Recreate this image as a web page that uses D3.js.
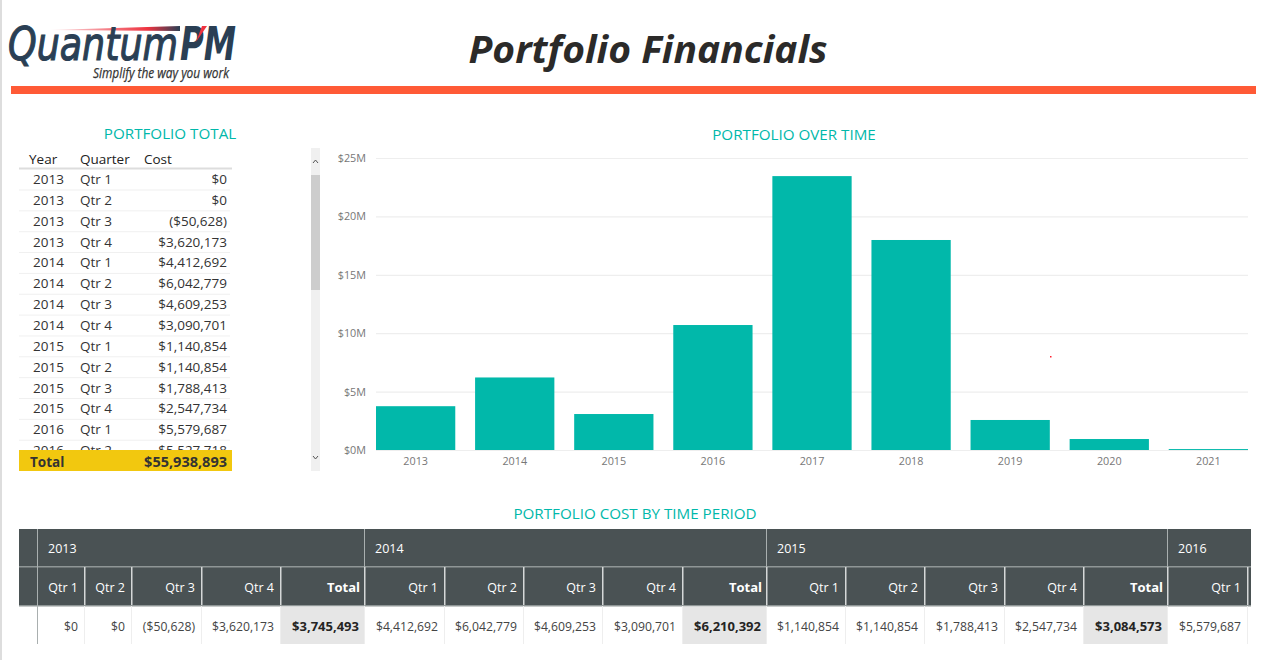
<!DOCTYPE html>
<html lang="en">
<head>
    <meta charset="UTF-8">
    <title>Portfolio Financials</title>
    <style>
        html, body { margin: 0; padding: 0; background: #fff; overflow: hidden; }
        svg { display: block; font-family: "Open Sans", sans-serif; }
        .section-title { fill: #01b8aa; font-size: 15.2px; text-anchor: middle; }
        .list-cell { fill: #333; font-size: 13.5px; }
        .list-head { fill: #222; font-size: 13.5px; }
        .matrix-head { fill: #fff; font-size: 12.5px; }
        .matrix-cell { fill: #444; font-size: 12.2px; text-anchor: end; }
        .axis text { fill: #777; font-size: 10.8px; font-family: "Open Sans", sans-serif; }
        .axis path { display: none; }
        .y-axis line { stroke: #eee; stroke-width: 1.2; }
        .x-axis line { display: none; }
    </style>
</head>
<body>
    <svg id="page" width="1268" height="660"></svg>

    <script src="https://d3js.org/d3.v7.min.js"></script>
    <script>
        // Chart values
        const chartYears = [2013, 2014, 2015, 2016, 2017, 2018, 2019, 2020, 2021];
        const chartCost = [3.75, 6.21, 3.08, 10.7, 23.45, 17.98, 2.57, 0.94, 0.08];
        const chartTicks = [0, 5, 10, 15, 20, 25];

        // Portfolio total list
        const listYears = [2013, 2013, 2013, 2013, 2014, 2014, 2014, 2014, 2015, 2015, 2015, 2015, 2016, 2016];
        const listQuarters = ["Qtr 1", "Qtr 2", "Qtr 3", "Qtr 4", "Qtr 1", "Qtr 2", "Qtr 3", "Qtr 4", "Qtr 1", "Qtr 2", "Qtr 3", "Qtr 4", "Qtr 1", "Qtr 2"];
        const listCost = [0, 0, -50628, 3620173, 4412692, 6042779, 4609253, 3090701, 1140854, 1140854, 1788413, 2547734, 5579687, 5527718];
        const grandTotal = 55938893;

        // Matrix values
        const matrixYears = [2013, 2014, 2015, 2016];
        const matrixTotals = [3745493, 6210392, 3084573];

        // Column right edges of the matrix, left to right
        const matrixEdges = [84, 131, 201, 280, 364, 444, 523, 602, 682, 766, 845, 924, 1004, 1083, 1167, 1247];
        const yearEdges = [37, 364, 766, 1167];

        const money = v => {
            const s = "$" + d3.format(",")(Math.abs(v));
            return v < 0 ? `(${s})` : s;
        };

        const svg = d3.select("#page");

        // Page edge, header
        svg.append("rect").attr("x", 0).attr("y", 0).attr("width", 2).attr("height", 660).attr("fill", "#ddd");
        svg.append("rect").attr("x", 11).attr("y", 86).attr("width", 1245).attr("height", 8).attr("fill", "#ff5a36");
        svg.append("text")
            .attr("x", 648).attr("y", 63)
            .attr("text-anchor", "middle")
            .attr("textLength", 359)
            .attr("lengthAdjust", "spacingAndGlyphs")
            .style("font-size", "37px").style("font-weight", 700).style("font-style", "italic")
            .attr("fill", "#2b2a29")
            .text("Portfolio Financials");

        // Logo
        const swoosh = svg.append("defs").append("linearGradient").attr("id", "swoosh");
        swoosh.append("stop").attr("offset", "0%").attr("stop-color", "#ee3340").attr("stop-opacity", 0.1);
        swoosh.append("stop").attr("offset", "75%").attr("stop-color", "#ee3340");
        swoosh.append("stop").attr("offset", "100%").attr("stop-color", "#2a3f54");
        svg.append("path").attr("d", "M50,30 L180,26 L180,31 Z").attr("fill", "url(#swoosh)");
        svg.append("text")
            .attr("x", 8).attr("y", 60)
            .attr("textLength", 170).attr("lengthAdjust", "spacingAndGlyphs")
            .style("font-family", "'DejaVu Sans'")
            .style("font-size", "46px").style("font-style", "italic")
            .attr("fill", "#2a3f54").attr("stroke", "#2a3f54").attr("stroke-width", 1.2)
            .text("Quantum");
        svg.append("text")
            .attr("x", 180).attr("y", 60)
            .attr("textLength", 56).attr("lengthAdjust", "spacingAndGlyphs")
            .style("font-family", "'DejaVu Sans'")
            .style("font-size", "47px").style("font-style", "italic").style("font-weight", 700)
            .attr("fill", "#2a3f54")
            .text("PM");
        svg.append("path").attr("d", "M207,26 L202,26 L196,42 Z").attr("fill", "#ee3340");
        svg.append("text")
            .attr("x", 93).attr("y", 78)
            .attr("textLength", 136).attr("lengthAdjust", "spacingAndGlyphs")
            .style("font-size", "14px").style("font-style", "italic")
            .attr("fill", "#333").attr("stroke", "#333").attr("stroke-width", 0.25)
            .text("Simplify the way you work");

        // Section titles
        const titles = [["PORTFOLIO TOTAL", 170, 139], ["PORTFOLIO OVER TIME", 794, 140], ["PORTFOLIO COST BY TIME PERIOD", 635, 519]];
        svg.selectAll(".section-title").data(titles).join("text")
            .attr("class", "section-title")
            .attr("x", d => d[1]).attr("y", d => d[2])
            .text(d => d[0]);

        // Column chart
        const xBand = d3.scaleBand().domain(chartYears).range([376, 1248]).paddingInner(0.2).paddingOuter(0);
        const yCost = d3.scaleLinear().domain([0, 25]).range([450, 158]);

        svg.append("g").attr("class", "axis y-axis")
            .attr("transform", "translate(1248,0)")
            .call(d3.axisLeft(yCost).tickValues(chartTicks).tickFormat(d => `$${d}M`).tickSize(872).tickPadding(10))
            .call(g => g.selectAll("text").attr("dy", "0.32em"));

        svg.selectAll(".bar").data(chartYears).join("rect")
            .attr("class", "bar")
            .attr("x", d => xBand(d))
            .attr("y", (d, i) => yCost(chartCost[i]))
            .attr("width", xBand.bandwidth())
            .attr("height", (d, i) => yCost(0) - yCost(chartCost[i]))
            .attr("fill", "#01b8aa");

        svg.append("g").attr("class", "axis x-axis")
            .attr("transform", "translate(0,450)")
            .call(d3.axisBottom(xBand).tickSize(0).tickPadding(7));

        // stray red pixel in the screenshot
        svg.append("rect").attr("x", 1050).attr("y", 356).attr("width", 1.5).attr("height", 1.5).attr("fill", "#ff2030");

        // Portfolio total list
        const rowY = d3.scaleLinear().domain([0, 1]).range([184, 204.85]);
        const listHead = [["Year", 29, "start"], ["Quarter", 80, "start"], ["Cost", 144, "start"]];
        svg.selectAll(".list-head").data(listHead).join("text")
            .attr("class", "list-head")
            .attr("x", d => d[1]).attr("y", 163.5)
            .text(d => d[0]);
        svg.append("rect").attr("x", 19).attr("y", 167.5).attr("width", 213).attr("height", 2).attr("fill", "#ddd");

        svg.append("clipPath").attr("id", "list-clip")
            .append("rect").attr("x", 19).attr("y", 169).attr("width", 213).attr("height", 281);
        const listBody = svg.append("g").attr("clip-path", "url(#list-clip)");
        const rows = listBody.selectAll("g").data(listCost).join("g")
            .attr("transform", (d, i) => `translate(0,${rowY(i)})`);
        rows.append("rect").attr("x", 19).attr("y", 5.5).attr("width", 211).attr("height", 1).attr("fill", "#f0f0f0");
        rows.append("text").attr("class", "list-cell").attr("x", 33).text((d, i) => listYears[i]);
        rows.append("text").attr("class", "list-cell").attr("x", 80).text((d, i) => listQuarters[i]);
        rows.append("text").attr("class", "list-cell").attr("x", 227).attr("text-anchor", "end").text(d => money(d));

        svg.append("rect").attr("x", 19).attr("y", 450).attr("width", 213).attr("height", 21).attr("fill", "#f2c80f");
        svg.append("text").attr("class", "list-cell").attr("x", 30).attr("y", 467).style("font-weight", 700).text("Total");
        svg.append("text").attr("class", "list-cell").attr("x", 227).attr("y", 467).attr("text-anchor", "end").style("font-weight", 700).style("font-size", "14.5px").text(money(grandTotal));

        // Scrollbar
        svg.append("rect").attr("x", 311).attr("y", 148).attr("width", 9).attr("height", 323).attr("fill", "#f0f0f0");
        svg.append("rect").attr("x", 311).attr("y", 175).attr("width", 9).attr("height", 115).attr("fill", "#cdcdcd");
        svg.append("path").attr("d", "M313,163 L315.5,160 L318,163").attr("fill", "none").attr("stroke", "#555");
        svg.append("path").attr("d", "M313,456 L315.5,459 L318,456").attr("fill", "none").attr("stroke", "#555");

        // Matrix: the columns come from the list, with a total after each year
        const columns = [];
        matrixYears.forEach((year, y) => {
            listCost.forEach((v, i) => {
                if (listYears[i] === year && !(year === 2016 && listQuarters[i] !== "Qtr 1")) {
                    columns.push({ label: listQuarters[i], value: v, total: false });
                }
            });
            if (y < matrixTotals.length) columns.push({ label: "Total", value: matrixTotals[y], total: true });
        });

        svg.append("rect").attr("x", 19).attr("y", 529).attr("width", 1232).attr("height", 77).attr("fill", "#4a5254");
        svg.append("rect").attr("x", 19).attr("y", 566).attr("width", 1232).attr("height", 1.5).attr("fill", "#8f9696");
        svg.append("rect").attr("x", 19).attr("y", 605).attr("width", 1232).attr("height", 1.5).attr("fill", "#8f9696");

        svg.selectAll(".year-edge").data(yearEdges).join("rect")
            .attr("class", "year-edge")
            .attr("x", d => d).attr("y", 529).attr("width", 1).attr("height", 115).attr("fill", "#a9afaf");
        svg.selectAll(".year-label").data(matrixYears).join("text")
            .attr("class", "year-label matrix-head")
            .attr("x", (d, i) => yearEdges[i] + 11).attr("y", 553)
            .text(d => d);

        const cols = svg.selectAll(".col").data(columns).join("g").attr("class", "col");
        cols.each(function (d, i) {
            const right = matrixEdges[i];
            const left = i === 0 ? yearEdges[0] : matrixEdges[i - 1];
            const g = d3.select(this);
            if (d.total) {
                g.append("rect").attr("x", left + 1).attr("y", 606.5)
                    .attr("width", right - left - 1).attr("height", 37.5).attr("fill", "#e6e6e6");
            }
            g.append("rect").attr("x", right).attr("y", 567).attr("width", 1.5).attr("height", 38).attr("fill", "#d5d8d8");
            g.append("rect").attr("x", right).attr("y", 606).attr("width", 1).attr("height", 38).attr("fill", "#eee");
            g.append("text").attr("class", "matrix-head")
                .attr("x", right - (d.total ? 4 : 6)).attr("y", 592)
                .attr("text-anchor", "end")
                .style("font-weight", d.total ? 700 : 400)
                .style("font-size", d.total ? "13px" : null)
                .text(d.label);
            g.append("text").attr("class", "matrix-cell")
                .attr("x", right - (d.total ? 5 : 6)).attr("y", 631)
                .style("font-weight", d.total ? 700 : 400)
                .style("font-size", d.total ? "13px" : null)
                .style("fill", d.total ? "#252423" : null)
                .text(money(d.value));
        });
    </script>
</body>
</html>
